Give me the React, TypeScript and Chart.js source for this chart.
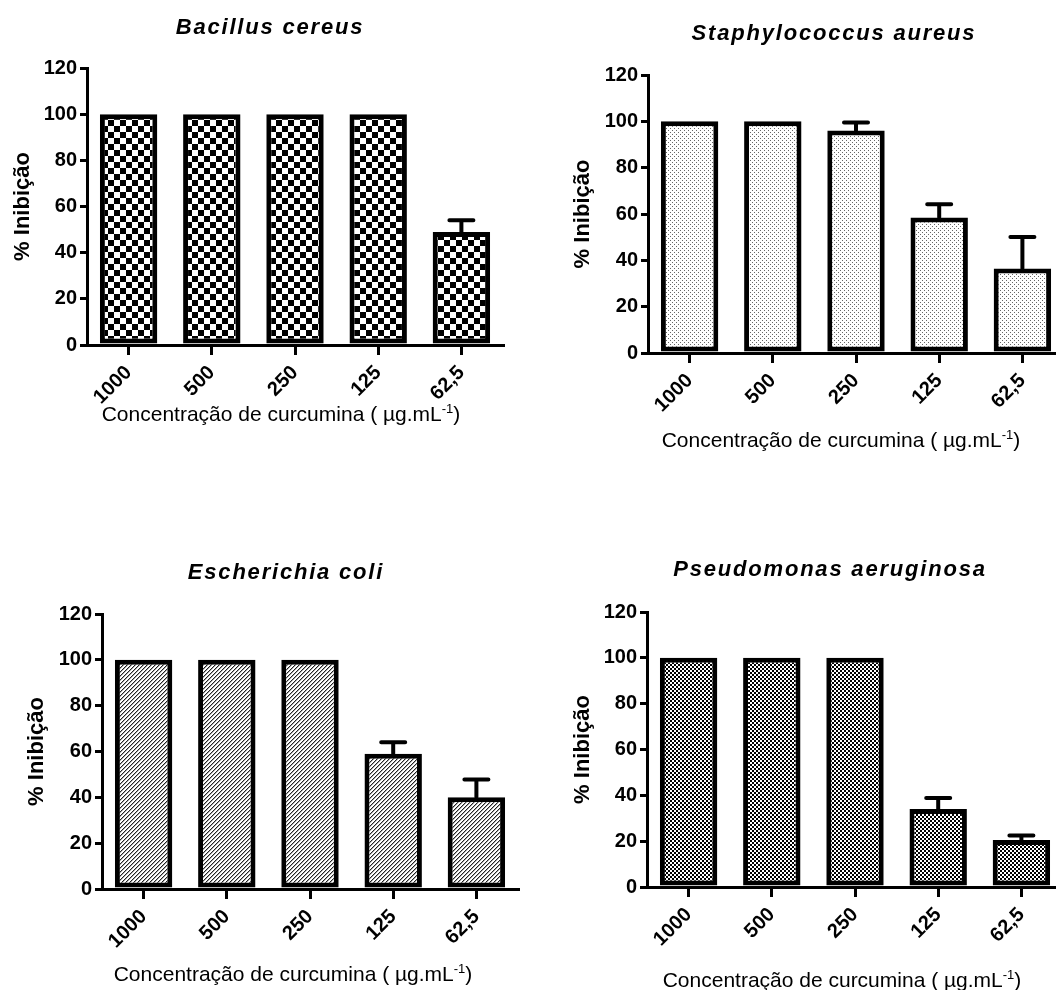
import React, { useEffect, useRef } from 'react';
import { Chart, registerables } from 'chart.js';

Chart.register(...registerables);

// ---------- data ----------
const categories = ['1000', '500', '250', '125', '62,5'];

const bacillusValues = [100, 100, 100, 100, 49];
const bacillusErrors = [0, 0, 0, 0, 5];

const staphValues = [100, 100, 96, 58.5, 36.5];
const staphErrors = [0, 0, 3.5, 5.7, 13.6];

const ecoliValues = [100, 100, 100, 59, 40];
const ecoliErrors = [0, 0, 0, 5, 7.8];

const pseudoValues = [100, 100, 100, 34, 20.5];
const pseudoErrors = [0, 0, 0, 4.8, 2];

const panelTitles = ['Bacillus cereus', 'Staphylococcus aureus', 'Escherichia coli', 'Pseudomonas aeruginosa'];
const yAxisTitle = '% Inibição';
const xAxisTitleMain = 'Concentração de curcumina ( µg.mL';
const xAxisTitleSup = '-1';
const xAxisTitleEnd = ')';
const yMin = 0;
const yMax = 120;
const yStep = 20;

const FONT = "'Liberation Sans', Arial, Helvetica, sans-serif";

type PatternKind = 'checker' | 'dots' | 'hatch' | 'fine';

function makePattern(kind: PatternKind): CanvasPattern | string {
  const s = kind === 'checker' ? 12 : 4;
  const c = document.createElement('canvas');
  c.width = s;
  c.height = s;
  const g = c.getContext('2d');
  if (!g) return '#888';
  g.fillStyle = '#fff';
  g.fillRect(0, 0, s, s);
  if (kind === 'checker') {
    g.fillStyle = '#000';
    g.fillRect(0, 0, 6, 6);
    g.fillRect(6, 6, 6, 6);
  } else if (kind === 'dots') {
    g.fillStyle = '#666';
    g.fillRect(0, 0, 1, 1);
    g.fillRect(2, 2, 1, 1);
  } else if (kind === 'hatch') {
    for (let i = 0; i < 4; i++) {
      g.fillStyle = '#222';
      g.fillRect(i, 3 - i, 1, 1);
      g.fillStyle = '#aaa';
      g.fillRect((i + 1) % 4, 3 - i, 1, 1);
    }
  } else {
    g.fillStyle = '#000';
    g.fillRect(0, 0, 2, 2);
    g.fillRect(2, 2, 2, 2);
  }
  return g.createPattern(c, 'repeat') || '#888';
}

const errorBarPlugin = {
  id: 'errorBars',
  afterDatasetsDraw(chart: any) {
    const ctx = chart.ctx;
    const yScale = chart.scales.y;
    chart.data.datasets.forEach((ds: any, di: number) => {
      const meta = chart.getDatasetMeta(di);
      const errs: number[] = ds.errors || [];
      meta.data.forEach((bar: any, i: number) => {
        const e = errs[i];
        if (!e) return;
        const v = ds.data[i] as number;
        const x = bar.x;
        const yTop = yScale.getPixelForValue(v + e);
        const yBase = yScale.getPixelForValue(v);
        ctx.save();
        ctx.strokeStyle = '#000';
        ctx.lineWidth = 4;
        ctx.lineCap = 'round';
        ctx.beginPath();
        ctx.moveTo(x, yBase);
        ctx.lineTo(x, yTop);
        ctx.moveTo(x - 12, yTop);
        ctx.lineTo(x + 12, yTop);
        ctx.stroke();
        ctx.restore();
      });
    });
  },
};

interface PanelProps {
  title: string;
  values: number[];
  errors: number[];
  pattern: PatternKind;
  left: number;
  top: number;
  width: number;
  height: number;
  yWidth: number;
  padTop: number;
  padRight: number;
  padBottom: number;
  yTitlePad: number;
  titleX: number;
  titleY: number;
  xTitleX: number;
  xTitleY: number;
}

function Panel(p: PanelProps) {
  const ref = useRef<HTMLCanvasElement | null>(null);
  useEffect(() => {
    if (!ref.current) return;
    const chart = new Chart(ref.current, {
      type: 'bar',
      data: {
        labels: categories,
        datasets: [
          {
            data: p.values,
            errors: p.errors,
            backgroundColor: makePattern(p.pattern),
            borderColor: '#000',
            borderWidth: 5,
            borderSkipped: false,
            barPercentage: 0.69,
            categoryPercentage: 1,
          } as any,
        ],
      },
      options: {
        responsive: false,
        animation: false,
        layout: { padding: { left: 0, top: p.padTop, right: p.padRight, bottom: p.padBottom } },
        plugins: {
          legend: { display: false },
          tooltip: { enabled: false },
          title: { display: false },
        },
        scales: {
          x: {
            type: 'category',
            offset: true,
            border: { display: true, color: '#000', width: 3 },
            grid: {
              display: true,
              drawOnChartArea: false,
              offset: false,
              drawTicks: true,
              tickLength: 10,
              lineWidth: 3,
              color: '#000',
            },
            ticks: {
              color: '#000',
              font: { family: FONT, size: 20, weight: 'bold' },
              minRotation: 45,
              maxRotation: 45,
              autoSkip: false,
              padding: 6,
            },
            afterFit: (s: any) => {
              s.height = 60;
            },
          },
          y: {
            min: yMin,
            max: yMax,
            border: { display: true, color: '#000', width: 3 },
            grid: {
              display: true,
              drawOnChartArea: false,
              drawTicks: true,
              tickLength: 7,
              lineWidth: 3,
              color: '#000',
            },
            ticks: {
              stepSize: yStep,
              color: '#000',
              font: { family: FONT, size: 20, weight: 'bold' },
              padding: 3,
            },
            title: {
              display: true,
              text: yAxisTitle,
              color: '#000',
              font: { family: FONT, size: 22, weight: 'bold' },
              padding: { top: p.yTitlePad, bottom: 0 },
            },
            afterFit: (s: any) => {
              s.width = p.yWidth;
            },
          },
        },
      } as any,
      plugins: [errorBarPlugin],
    });
    return () => chart.destroy();
  }, []);

  return (
    <>
      <canvas
        ref={ref}
        width={p.width}
        height={p.height}
        style={{ position: 'absolute', left: p.left, top: p.top, width: p.width, height: p.height, display: 'block' }}
      />
      <div
        style={{
          position: 'absolute',
          left: p.titleX,
          top: p.titleY,
          transform: 'translate(-50%, -50%)',
          font: `italic bold 22px ${FONT}`,
          letterSpacing: '1.8px',
          whiteSpace: 'nowrap',
          lineHeight: 1,
          color: '#000',
        }}
      >
        {p.title}
      </div>
      <div
        style={{
          position: 'absolute',
          left: p.xTitleX,
          top: p.xTitleY,
          transform: 'translate(-50%, -50%)',
          font: `21px ${FONT}`,
          whiteSpace: 'nowrap',
          lineHeight: 1,
          color: '#000',
        }}
      >
        {xAxisTitleMain}
        <sup style={{ fontSize: 13, lineHeight: 0 }}>{xAxisTitleSup}</sup>
        {xAxisTitleEnd}
      </div>
    </>
  );
}

export default function App() {
  return (
    <div
      style={{
        position: 'absolute',
        left: 0,
        top: 0,
        width: 1056,
        height: 990,
        overflow: 'hidden',
        background: '#fff',
      }}
    >
      <Panel
        title={panelTitles[0]}
        values={bacillusValues}
        errors={bacillusErrors}
        pattern="checker"
        left={0}
        top={0}
        width={530}
        height={540}
        yWidth={87}
        padTop={68}
        padRight={27}
        padBottom={135}
        yTitlePad={10}
        titleX={270}
        titleY={27}
        xTitleX={281}
        xTitleY={413}
      />
      <Panel
        title={panelTitles[1]}
        values={staphValues}
        errors={staphErrors}
        pattern="dots"
        left={530}
        top={0}
        width={540}
        height={540}
        yWidth={118}
        padTop={75}
        padRight={6}
        padBottom={127}
        yTitlePad={40}
        titleX={834}
        titleY={33}
        xTitleX={841}
        xTitleY={439}
      />
      <Panel
        title={panelTitles[2]}
        values={ecoliValues}
        errors={ecoliErrors}
        pattern="hatch"
        left={0}
        top={540}
        width={530}
        height={450}
        yWidth={102}
        padTop={74}
        padRight={12}
        padBottom={41}
        yTitlePad={24}
        titleX={286}
        titleY={572}
        xTitleX={293}
        xTitleY={973}
      />
      <Panel
        title={panelTitles[3]}
        values={pseudoValues}
        errors={pseudoErrors}
        pattern="fine"
        left={530}
        top={540}
        width={540}
        height={450}
        yWidth={117}
        padTop={72}
        padRight={7}
        padBottom={43}
        yTitlePad={40}
        titleX={830}
        titleY={569}
        xTitleX={842}
        xTitleY={979}
      />
    </div>
  );
}
